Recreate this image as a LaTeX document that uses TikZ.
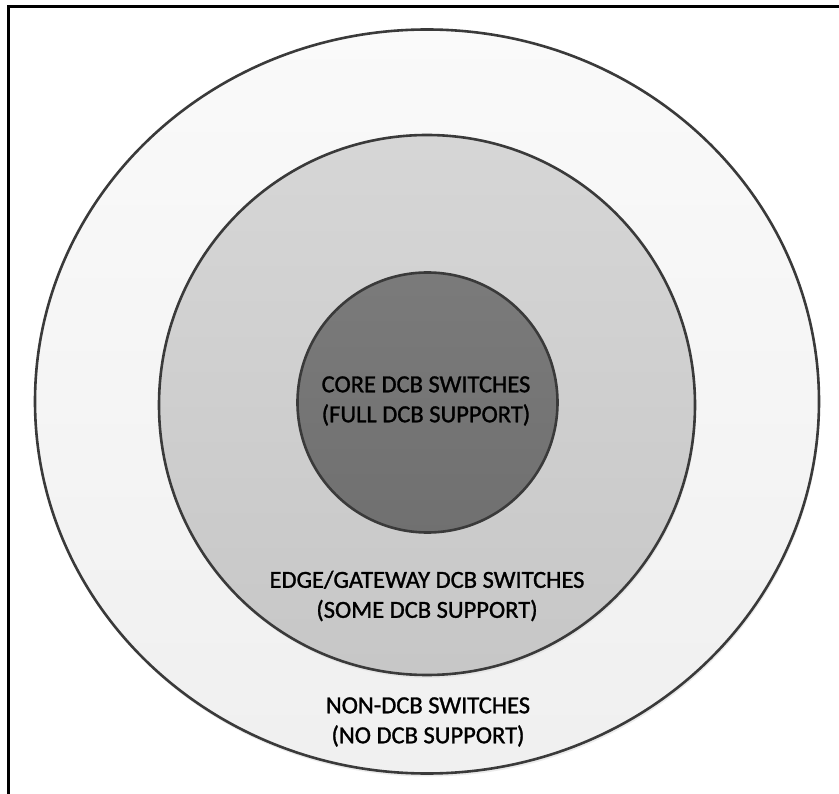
\documentclass[tikz,border=0pt]{standalone}
\usepackage{fontspec}
\setmainfont{Carlito}
\newfontfamily\lblfont{Carlito}[BoldFont=Carlito, BoldFeatures={FakeBold=1.2}]
\usetikzlibrary{shapes.geometric}
\definecolor{ringline}{HTML}{3A3A3A}
\tikzset{
  ring/.style={ellipse, draw=ringline, line width=2.6pt, inner sep=0pt, outer sep=0pt},
  lbl/.style={align=center, font=\lblfont\bfseries\fontsize{24.5}{30}\selectfont, text=black, inner sep=0pt}
}
\begin{document}
\begin{tikzpicture}[x=1pt,y=-1pt]
  \useasboundingbox (0,0) rectangle (839,794);
  \fill[white] (0,0) rectangle (839,794);
  \draw[line width=3pt] (8,794) -- (8,7) -- (839,7);
  % shadows
  \fill[black!8] (428,404.5) ellipse [x radius=392, y radius=372];
  \node[ring, minimum width=784pt, minimum height=744pt, top color=white!98!black, bottom color=black!6] (outer) at (427,401.5) {};
  \fill[black!10] (428,408) ellipse [x radius=268, y radius=270];
  \node[ring, minimum width=536pt, minimum height=540pt, top color=black!16, bottom color=black!22] (middle) at (427,405) {};
  \node[ring, circle, minimum size=260pt, top color=black!52, bottom color=black!56] (inner) at (427.5,402.5) {};
  \node[lbl] (innerlbl) at (426,401) {CORE DCB SWITCHES\\(FULL DCB SUPPORT)};
  \node[lbl] (middlelbl) at (427,596) {EDGE/GATEWAY DCB SWITCHES\\(SOME DCB SUPPORT)};
  \node[lbl] (outerlbl) at (428,722) {NON-DCB SWITCHES\\(NO DCB SUPPORT)};
\end{tikzpicture}
\end{document}
